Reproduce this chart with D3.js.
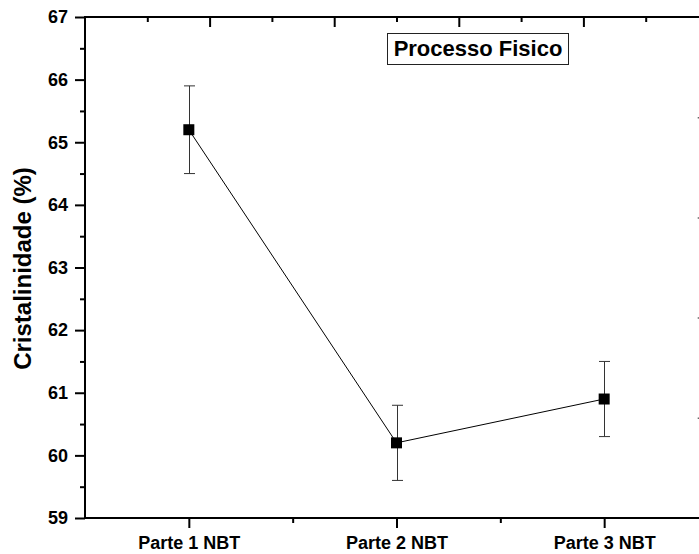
<!DOCTYPE html>
<html>
<head>
<meta charset="utf-8">
<script src="https://cdn.jsdelivr.net/npm/d3@7"></script>
<style>
  html, body { margin: 0; padding: 0; background: #fff; }
  svg { display: block; font-family: "Liberation Sans", Arial, sans-serif; }
</style>
</head>
<body>
<svg id="chart" width="699" height="554"></svg>
<script>
// Crystallinity per sample part, with error bars
const categories = ["Parte 1 NBT", "Parte 2 NBT", "Parte 3 NBT"];
const values = [65.2, 60.2, 60.9];
const errors = [0.7, 0.6, 0.6];
const yTicks = [59, 60, 61, 62, 63, 64, 65, 66, 67];
const yTitle = "Cristalinidade (%)";
const boxTitle = "Processo Fisico";

const svg = d3.select("#chart");
const plotLeft = 85, plotRight = 708, plotTop = 17, plotBottom = 518;

const x = d3.scaleLinear().domain([0.5, 3.5]).range([plotLeft, plotRight]);
const y = d3.scaleLinear().domain([59, 67]).range([plotBottom, plotTop]);
// frame axes on top / right carry their own plain tick spacing
const xTop = d3.scaleLinear().domain([0, 5]).range([plotLeft, plotRight]);
const yRight = d3.scaleLinear().domain([0, 5]).range([plotBottom, plotTop]);

const axisStroke = 2;

function styleAxis(g) {
  g.select(".domain").remove();
  g.selectAll("line").attr("stroke", "#000").attr("stroke-width", axisStroke);
}

// Left axis: major ticks with labels
const gLeft = svg.append("g").attr("transform", `translate(${plotLeft},0)`)
  .call(d3.axisLeft(y).tickValues(yTicks).tickSize(10).tickPadding(7).tickFormat(d3.format("d")));
styleAxis(gLeft);
gLeft.selectAll("text").attr("font-size", 18).attr("font-weight", "bold").attr("fill", "#000");
// Left minor ticks
svg.append("g").attr("transform", `translate(${plotLeft},0)`)
  .call(d3.axisLeft(y).tickValues(d3.range(59.5, 67, 1)).tickSize(5).tickFormat(""))
  .call(styleAxis);

// Bottom axis: category ticks
const catPos = categories.map((c, i) => i + 1);
const gBottom = svg.append("g").attr("transform", `translate(0,${plotBottom})`)
  .call(d3.axisBottom(x).tickValues(catPos).tickSize(10).tickPadding(8)
    .tickFormat((d, i) => categories[i]));
styleAxis(gBottom);
gBottom.selectAll("text").attr("font-size", 18).attr("font-weight", "bold").attr("fill", "#000");
svg.append("g").attr("transform", `translate(0,${plotBottom})`)
  .call(d3.axisBottom(x).tickValues([1.5, 2.5]).tickSize(5).tickFormat(""))
  .call(styleAxis);

// Top frame axis (inward ticks)
svg.append("g").attr("transform", `translate(0,${plotTop})`)
  .call(d3.axisBottom(xTop).tickValues(d3.range(1, 5)).tickSize(10).tickFormat(""))
  .call(styleAxis);
svg.append("g").attr("transform", `translate(0,${plotTop})`)
  .call(d3.axisBottom(xTop).tickValues(d3.range(0.5, 5, 1)).tickSize(5).tickFormat(""))
  .call(styleAxis);

// Right frame axis (inward ticks, just reaching into view)
svg.append("g").attr("transform", `translate(${plotRight},0)`)
  .call(d3.axisLeft(yRight).tickValues(d3.range(1, 5)).tickSize(10.3).tickFormat(""))
  .call(g => {
    g.select(".domain").remove();
    g.selectAll("line").attr("stroke", "#666").attr("stroke-width", 1.5);
  });

// Frame lines
const frame = svg.append("g").attr("stroke", "#000").attr("stroke-width", axisStroke);
frame.append("line").attr("x1", plotLeft).attr("x2", plotLeft).attr("y1", plotTop - 1).attr("y2", plotBottom + 1);
frame.append("line").attr("x1", plotLeft - 1).attr("x2", plotRight).attr("y1", plotBottom).attr("y2", plotBottom);
frame.append("line").attr("x1", plotLeft - 1).attr("x2", plotRight).attr("y1", plotTop).attr("y2", plotTop);
frame.append("line").attr("x1", plotRight).attr("x2", plotRight).attr("y1", plotTop).attr("y2", plotBottom);

// Y-axis title
svg.append("text")
  .attr("transform", `translate(31,${(plotTop + plotBottom) / 2 + 1}) rotate(-90)`)
  .attr("text-anchor", "middle")
  .attr("font-size", 24).attr("font-weight", "bold").attr("fill", "#000")
  .text(yTitle);

// Connecting line
const pts = values.map((v, i) => [x(i + 1), y(v)]);
svg.append("path")
  .attr("d", d3.line()(pts))
  .attr("fill", "none").attr("stroke", "#000").attr("stroke-width", 1);

// Error bars
const eb = svg.append("g").attr("stroke", "#333").attr("stroke-width", 1);
values.forEach((v, i) => {
  const cx = Math.round(x(i + 1)) + 0.5;
  const y1 = y(v + errors[i]), y0 = y(v - errors[i]);
  eb.append("line").attr("x1", cx).attr("x2", cx).attr("y1", y1).attr("y2", y0);
  eb.append("line").attr("x1", cx - 5.5).attr("x2", cx + 5.5).attr("y1", y1).attr("y2", y1);
  eb.append("line").attr("x1", cx - 5.5).attr("x2", cx + 5.5).attr("y1", y0).attr("y2", y0);
});

// Square markers
svg.append("g").selectAll("rect").data(values).join("rect")
  .attr("x", (d, i) => x(i + 1) - 5.5)
  .attr("y", d => y(d) - 5.5)
  .attr("width", 11).attr("height", 11)
  .attr("fill", "#000");

// Boxed title
const tb = svg.append("g");
tb.append("rect")
  .attr("x", 387.5).attr("y", 33.5).attr("width", 181).attr("height", 31)
  .attr("fill", "#fff").attr("stroke", "#222").attr("stroke-width", 1);
tb.append("text")
  .attr("x", 478).attr("y", 56)
  .attr("text-anchor", "middle")
  .attr("font-size", 22).attr("font-weight", "bold").attr("fill", "#000")
  .text(boxTitle);
</script>
</body>
</html>
